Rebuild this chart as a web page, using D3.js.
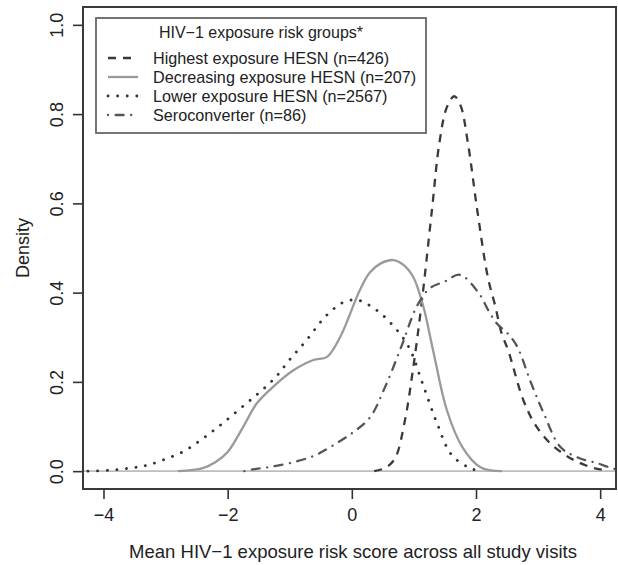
<!DOCTYPE html>
<html>
<head>
<meta charset="utf-8">
<script src="https://cdn.jsdelivr.net/npm/d3@7"></script>
<style>
	body { margin: 0; background: #fff; }
	svg { display: block; font-family: "Liberation Sans", Arial, sans-serif; }
</style>
</head>
<body>
<svg width="618" height="565"></svg>
<script>
// Values (x = mean exposure score, y = density)
const highestX = [0.36, 0.55, 0.7, 0.85, 0.99, 1.13, 1.29, 1.41, 1.53, 1.65, 1.75, 1.87, 2.02, 2.19, 2.31, 2.41, 2.52, 2.76, 2.95, 3.19, 3.45, 3.68, 3.9, 4.1];
const highestY = [0, 0.008, 0.03, 0.11, 0.233, 0.383, 0.585, 0.735, 0.815, 0.84, 0.82, 0.735, 0.585, 0.435, 0.37, 0.31, 0.27, 0.16, 0.105, 0.063, 0.035, 0.018, 0.007, 0.002];

const decreasingX = [-2.8, -2.4, -2.2, -2.0, -1.75, -1.53, -1.26, -0.94, -0.62, -0.4, -0.19, 0.13, 0.29, 0.46, 0.67, 0.85, 0.99, 1.15, 1.31, 1.53, 1.78, 2.07, 2.42];
const decreasingY = [0, 0.007, 0.02, 0.043, 0.099, 0.152, 0.19, 0.226, 0.249, 0.256, 0.30, 0.406, 0.445, 0.465, 0.473, 0.46, 0.435, 0.37, 0.27, 0.137, 0.054, 0.009, 0];

const lowerX = [-4.25, -3.9, -3.57, -3.3, -3.04, -2.7, -2.39, -2.1, -1.8, -1.5, -1.23, -1.0, -0.75, -0.4, -0.11, 0.1, 0.3, 0.57, 0.91, 1.13, 1.37, 1.61, 1.9, 2.05];
const lowerY = [0, 0.002, 0.007, 0.013, 0.025, 0.045, 0.074, 0.105, 0.14, 0.175, 0.21, 0.25, 0.29, 0.35, 0.38, 0.383, 0.37, 0.34, 0.28, 0.2, 0.108, 0.036, 0.007, 0.001];

const seroX = [-1.73, -1.59, -1.3, -0.94, -0.6, -0.3, 0.0, 0.29, 0.54, 0.8, 1.05, 1.26, 1.5, 1.74, 2.04, 2.2, 2.34, 2.5, 2.66, 2.88, 3.09, 3.36, 3.65, 3.95, 4.2, 4.3];
const seroY = [0, 0.004, 0.01, 0.02, 0.035, 0.058, 0.085, 0.12, 0.19, 0.28, 0.37, 0.41, 0.425, 0.44, 0.40, 0.36, 0.33, 0.31, 0.28, 0.20, 0.13, 0.054, 0.03, 0.018, 0.006, 0.003];

const legendTitle = "HIV\u22121 exposure risk groups*";
const groupNames = ["Highest exposure HESN (n=426)", "Decreasing exposure HESN (n=207)", "Lower exposure HESN (n=2567)", "Seroconverter (n=86)"];

const xTicks = [-4, -2, 0, 2, 4];
const yTicks = [0, 0.2, 0.4, 0.6, 0.8, 1.0];

// line styles mimic R lty 2, 1, 3, 4
const styles = [
	{ color: "#3a3a3a", dash: "8,7", cap: "butt" },
	{ color: "#9a9a9a", dash: null, cap: "butt" },
	{ color: "#333333", dash: "0.1,9.5", cap: "round" },
	{ color: "#555555", dash: "0.1,7.5,8,7.5", cap: "round" }
];

const svg = d3.select("svg");
const plot = { left: 83, right: 616, top: 7, bottom: 489 };

const xScale = d3.scaleLinear()
				 .domain([-4.33, 4.255])
				 .range([plot.left, plot.right]);

const yScale = d3.scaleLinear()
				 .domain([-0.04, 1.04])
				 .range([plot.bottom, plot.top]);

svg.append("clipPath")
   .attr("id", "clip")
   .append("rect")
   .attr("x", plot.left)
   .attr("y", plot.top)
   .attr("width", plot.right - plot.left)
   .attr("height", plot.bottom - plot.top);

// zero line in light gray
svg.append("line")
   .attr("x1", plot.left).attr("x2", plot.right)
   .attr("y1", yScale(0)).attr("y2", yScale(0))
   .attr("stroke", "#bdbdbd")
   .attr("stroke-width", 1.6);

const series = [
	d3.zip(highestX, highestY),
	d3.zip(decreasingX, decreasingY),
	d3.zip(lowerX, lowerY),
	d3.zip(seroX, seroY)
];

const line = d3.line()
			   .x(d => xScale(d[0]))
			   .y(d => yScale(d[1]))
			   .curve(d3.curveCatmullRom.alpha(0.5));

const curves = svg.append("g").attr("clip-path", "url(#clip)");
series.forEach((s, i) => {
	curves.append("path")
		  .attr("d", line(s))
		  .attr("fill", "none")
		  .attr("stroke", styles[i].color)
		  .attr("stroke-width", i === 2 ? 2.8 : 2.3)
		  .attr("stroke-dasharray", styles[i].dash)
		  .attr("stroke-linecap", styles[i].cap);
});

// axes, R style: ticks outward, labels below/left
const xAxis = d3.axisBottom(xScale)
				.tickValues(xTicks)
				.tickSize(10)
				.tickPadding(9)
				.tickFormat(d => d < 0 ? "\u2212" + Math.abs(d) : d);

const xg = svg.append("g")
			  .attr("transform", `translate(0, ${plot.bottom})`)
			  .call(xAxis);
xg.select(".domain").remove();

const yAxis = d3.axisLeft(yScale)
				.tickValues(yTicks)
				.tickSize(10)
				.tickFormat(d3.format(".1f"));

const yg = svg.append("g")
			  .attr("transform", `translate(${plot.left}, 0)`)
			  .call(yAxis);
yg.select(".domain").remove();
// rotate the y tick labels like R's default las=0
yg.selectAll(".tick text")
  .attr("x", null).attr("dy", null)
  .attr("text-anchor", "middle")
  .attr("transform", "translate(-20, 0) rotate(-90)");

svg.selectAll(".tick line").attr("stroke", "#333").attr("stroke-width", 1.6);
svg.selectAll(".tick text")
   .attr("fill", "#222")
   .style("font-size", "18px")
   .style("font-family", "\"Liberation Sans\", Arial, sans-serif");

// plot box
svg.append("rect")
   .attr("x", plot.left).attr("y", plot.top)
   .attr("width", plot.right - plot.left)
   .attr("height", plot.bottom - plot.top)
   .attr("fill", "none")
   .attr("stroke", "#3a3a3a")
   .attr("stroke-width", 2);

// axis titles
svg.append("text")
   .attr("x", 353)
   .attr("y", 558)
   .attr("text-anchor", "middle")
   .attr("fill", "#222")
   .style("font-size", "18.5px")
   .text("Mean HIV\u22121 exposure risk score across all study visits");

svg.append("text")
   .attr("transform", `translate(29, ${(plot.top + plot.bottom) / 2}) rotate(-90)`)
   .attr("text-anchor", "middle")
   .attr("fill", "#222")
   .style("font-size", "18px")
   .text("Density");

// legend
const legend = svg.append("g");
legend.append("rect")
	  .attr("x", 96).attr("y", 18)
	  .attr("width", 330).attr("height", 115)
	  .attr("fill", "#fff")
	  .attr("stroke", "#666")
	  .attr("stroke-width", 1.8);

legend.append("text")
	  .attr("x", 261).attr("y", 38)
	  .attr("text-anchor", "middle")
	  .attr("fill", "#222")
	  .style("font-size", "16px")
	  .text(legendTitle);

groupNames.forEach((name, i) => {
	const y = 58 + i * 19;
	legend.append("line")
		  .attr("x1", 108).attr("x2", 138)
		  .attr("y1", y).attr("y2", y)
		  .attr("stroke", styles[i].color)
		  .attr("stroke-width", i === 2 ? 2.8 : 2.3)
		  .attr("stroke-dasharray", styles[i].dash)
		  .attr("stroke-linecap", styles[i].cap);
	legend.append("text")
		  .attr("x", 153).attr("y", y + 6)
		  .attr("fill", "#222")
		  .style("font-size", "16.2px")
		  .text(name);
});
</script>
</body>
</html>
